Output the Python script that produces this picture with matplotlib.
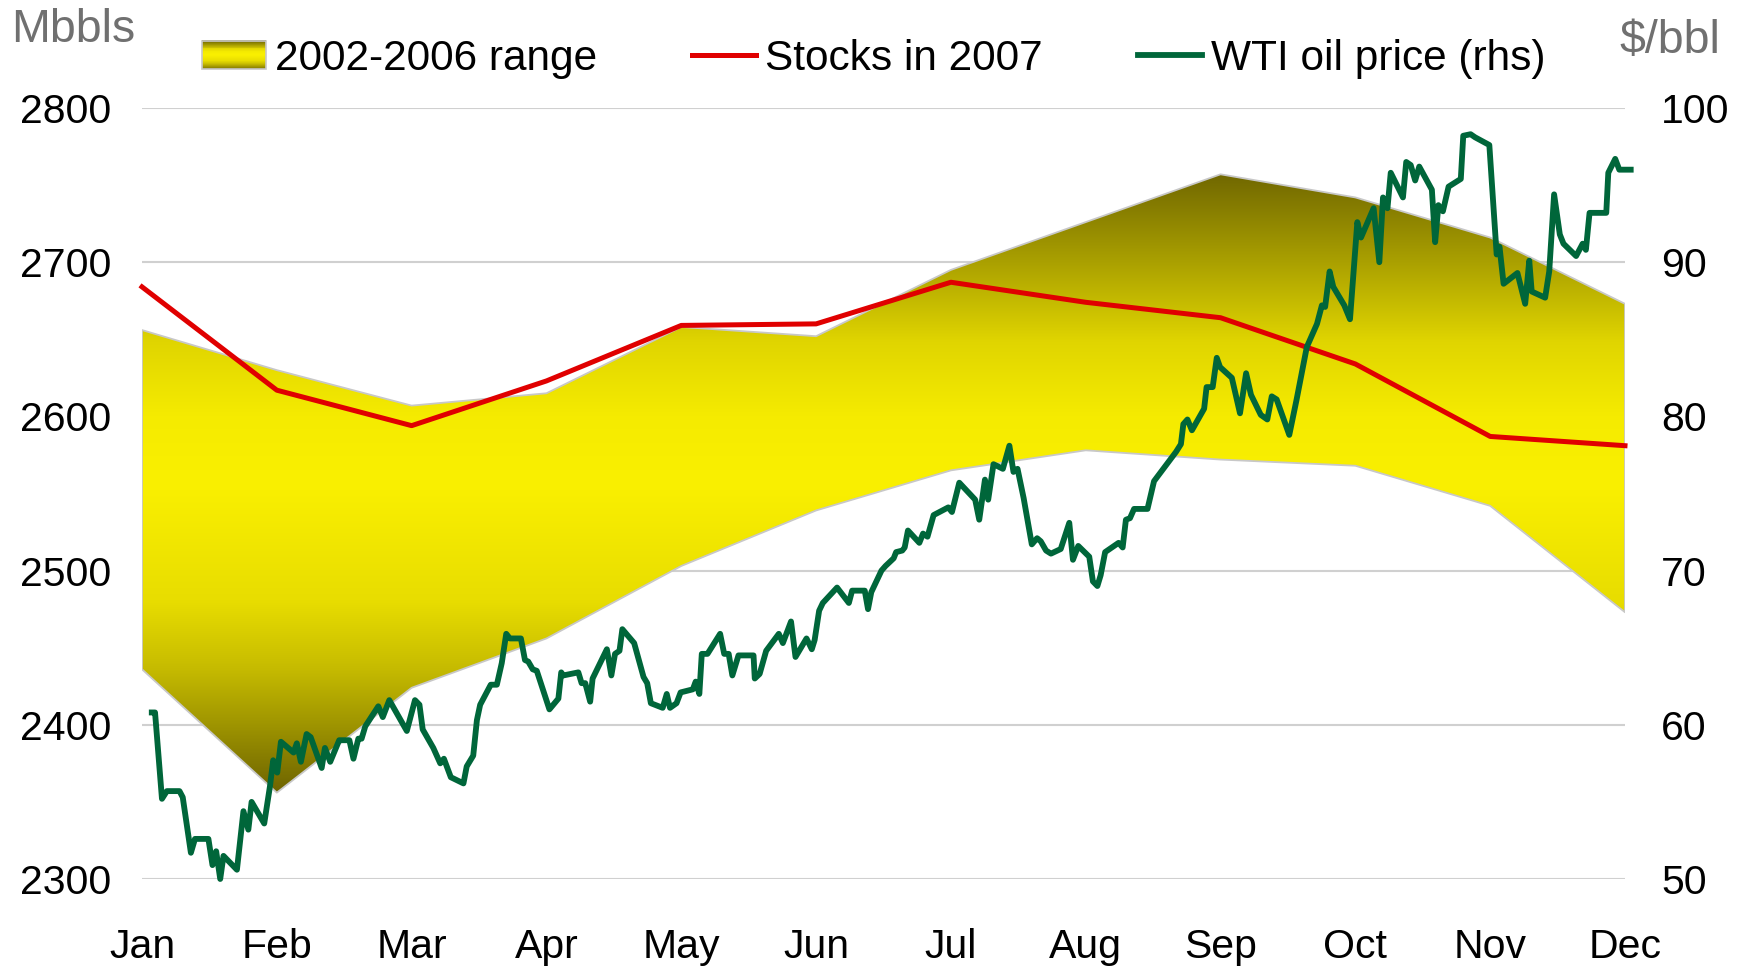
import matplotlib

matplotlib.use("Agg")

import matplotlib.pyplot as plt
import numpy as np
from matplotlib.colors import LinearSegmentedColormap
from matplotlib.legend_handler import HandlerBase
from matplotlib.lines import Line2D
from matplotlib.patches import Patch, Rectangle

plt.rcParams["font.family"] = ["Liberation Sans", "DejaVu Sans"]

# --- data -----------------------------------------------------------------
months = ["Jan", "Feb", "Mar", "Apr", "May", "Jun",
          "Jul", "Aug", "Sep", "Oct", "Nov", "Dec"]

# 2002-2006 range of US stocks, Mbbls
range_high = [2656, 2630, 2607, 2615, 2658, 2652,
              2695, 2726, 2757, 2742, 2716, 2673]
range_low = [2436, 2356, 2424, 2456, 2503, 2539,
             2565, 2578, 2572, 2568, 2542, 2473]

# stocks in 2007, Mbbls
stocks_2007 = [2684, 2617, 2594, 2623, 2659, 2660,
               2687, 2674, 2664, 2634, 2587, 2581]

# WTI price 2007 ($/bbl), day of year -> price
wti_day = [
    2.0, 2.8, 4.5, 5.7, 8.8, 9.6, 11.6, 12.6, 15.9, 16.9, 17.8, 18.8, 19.6,
    22.9, 24.5, 25.7, 26.5, 29.6, 31.0, 31.8, 32.8, 33.7, 36.8, 37.6, 38.6,
    40.0, 41.0, 43.7, 44.5, 45.8, 48.0, 50.5, 51.5, 52.7, 53.5, 54.4, 57.6,
    58.7, 60.3, 64.6, 66.6, 67.7, 68.5, 71.1, 72.8, 73.7, 75.4, 78.5, 79.3,
    80.9, 81.8, 82.6, 85.2, 86.7, 87.9, 89.0, 89.9, 92.6, 93.6, 94.4, 95.5,
    96.5, 99.6, 101.8, 102.5, 103.0, 106.7, 107.5, 108.4, 109.6, 110.2,
    113.7, 114.8, 115.7, 116.8, 117.5, 120.4, 122.7, 123.6, 124.5, 127.4,
    128.4, 129.2, 130.8, 131.8, 134.8, 135.5, 136.4, 137.0, 138.4, 141.5,
    142.5, 143.6, 144.5, 146.0, 149.7, 150.0, 151.2, 152.8, 155.9, 156.9,
    158.9, 160.0, 162.7, 164.0, 164.7, 165.8, 166.7, 170.2, 173.1, 173.9,
    177.0, 177.8, 178.6, 181.1, 182.1, 184.1, 184.7, 186.2, 186.8, 187.6,
    190.4, 191.3, 192.4, 193.9, 197.5, 198.4, 200.2, 204.1, 205.1, 206.5,
    207.3, 208.6, 210.9, 212.5, 213.5, 214.5, 216.0, 218.0, 219.3, 220.2,
    221.5, 222.7, 225.1, 227.2, 228.1, 229.4, 232.1, 233.0, 234.1, 234.9,
    236.0, 239.3, 240.3, 241.1, 242.1, 243.1, 246.4, 248.0, 249.7, 253.4,
    254.6, 255.2, 256.2, 257.3, 260.3, 260.9, 262.4, 263.4, 264.2, 267.1,
    269.1, 270.6, 271.8, 274.2, 275.8, 276.9, 278.1, 281.2, 283.0, 285.5,
    288.0, 289.2, 290.0, 291.1, 292.0, 294.7, 296.1, 297.9, 298.8, 301.9,
    303.3, 304.2, 305.3, 306.1, 309.1, 309.9, 311.0, 312.1, 313.1, 316.2,
    317.0, 317.8, 318.9, 320.3, 323.3, 323.9, 325.7, 326.8, 330.3, 332.1,
    332.8, 333.8, 337.2, 339.1, 340.1, 340.7, 344.0, 345.0, 346.2, 347.6,
    348.5, 351.6, 353.2, 354.0, 354.9, 359.0, 359.5, 361.2, 362.2, 365.0,
]
wti_price = [
    60.8, 60.8, 55.2, 55.7, 55.7, 55.3, 51.7, 52.6, 52.6, 50.9, 51.8, 50.0, 51.5,
    50.6, 54.4, 53.2, 55.0, 53.6, 56.0, 57.7, 56.9, 58.9, 58.2, 58.8, 57.6,
    59.4, 59.2, 57.2, 58.5, 57.6, 59.0, 59.0, 57.8, 59.1, 59.1, 59.9, 61.2,
    60.5, 61.6, 59.6, 61.6, 61.3, 59.7, 58.5, 57.5, 57.8, 56.6, 56.2, 57.3,
    58.0, 60.3, 61.3, 62.6, 62.6, 64.0, 65.9, 65.6, 65.6, 64.2, 64.1, 63.6,
    63.5, 61.0, 61.7, 63.4, 63.2, 63.4, 62.7, 62.7, 61.5, 63.0,
    64.9, 63.2, 64.6, 64.8, 66.2, 65.3, 63.1, 62.7, 61.4, 61.1,
    62.0, 61.1, 61.4, 62.1, 62.3, 62.8, 62.0, 64.6, 64.6, 65.9,
    64.6, 64.6, 63.2, 64.5, 64.5, 63.0, 63.3, 64.8, 65.9, 65.3,
    66.7, 64.4, 65.6, 64.9, 65.5, 67.4, 67.9, 68.9, 67.9, 68.7,
    68.7, 67.5, 68.6, 70.0, 70.3, 70.8, 71.2, 71.3, 71.5, 72.6,
    71.8, 72.4, 72.2, 73.6, 74.1, 73.8, 75.7, 74.6, 73.3, 75.9,
    74.6, 76.9, 76.6, 78.1, 76.4, 76.6, 74.7, 71.7, 72.1, 71.9,
    71.3, 71.1, 71.4, 73.1, 70.7, 71.6, 70.9, 69.3, 69.0, 69.7,
    71.2, 71.8, 71.5, 73.3, 73.4, 74.0, 74.0, 75.8, 76.4, 77.7,
    78.2, 79.5, 79.8, 79.1, 80.5, 81.9, 81.9, 83.8, 83.2, 82.5,
    80.2, 82.8, 81.4, 80.1, 79.8, 81.3, 81.1, 78.8, 81.1, 84.5,
    86.0, 87.2, 87.1, 89.4, 88.4, 87.2, 86.3, 92.6, 91.6, 93.5,
    90.0, 94.2, 93.5, 95.8, 94.2, 96.5, 96.3, 95.3, 96.2, 94.7,
    91.3, 93.7, 93.3, 94.9, 95.4, 98.2, 98.3, 98.1, 97.6, 90.5,
    91.0, 88.6, 89.3, 87.3, 90.1, 88.1, 87.7, 89.4, 94.4, 91.8,
    91.2, 90.4, 91.2, 90.8, 93.2, 93.2, 95.8, 96.7, 96.0, 96.0,
]

# --- styling ----------------------------------------------------------------
RED = "#e00000"
GREEN = "#00663a"
GRID = "#d0d0d0"
EDGE = "#c8c8c8"
FS = 29.5
LEG_FS = 30.5

band_cmap = LinearSegmentedColormap.from_list("band", [
    (0.00, "#6e6400"),
    (0.11, "#9f9500"),
    (0.20, "#c6bb00"),
    (0.31, "#e8dd00"),
    (0.50, "#faf000"),
    (0.61, "#f5eb00"),
    (0.73, "#e0d500"),
    (0.86, "#aaa000"),
    (1.00, "#716800"),
])


class GradientHandler(HandlerBase):
    def create_artists(self, legend, orig_handle, xdescent, ydescent,
                       width, height, fontsize, trans):
        n = 30
        arts = []
        for i in range(n):
            arts.append(Rectangle((-xdescent, -ydescent + i * height / n),
                                  width, height / n + 0.3,
                                  facecolor=band_cmap((i + 0.5) / n),
                                  edgecolor="none", transform=trans))
        arts.append(Rectangle((-xdescent, -ydescent), width, height,
                              facecolor="none", edgecolor=EDGE, lw=1.2,
                              transform=trans))
        return arts


W, H = 1745, 968
fig = plt.figure(figsize=(W / 100, H / 100), dpi=100)
ax = fig.add_axes([142 / W, 1 - 879 / H, (1625 - 142) / W, (879 - 108) / H])

x = np.arange(len(months))

# gradient band clipped to the range polygon
band = ax.fill_between(x, range_low, range_high, facecolor="none",
                       edgecolor=EDGE, lw=1.3, zorder=3)
grad = np.linspace(0, 1, 256).reshape(-1, 1)
img = ax.imshow(grad, extent=[0, 11, min(range_low), max(range_high)],
                aspect="auto", cmap=band_cmap, origin="lower", zorder=2,
                interpolation="bilinear")
img.set_clip_path(band.get_paths()[0], transform=ax.transData)

ax.plot(x, stocks_2007, color=RED, lw=3.6, zorder=4, clip_on=False)

ax.set_xlim(0, 11)
ax.set_ylim(2300, 2800)
ax.set_yticks(range(2300, 2801, 100))
ax.set_xticks(x)
ax.set_xticklabels(months)
ax.grid(axis="y", color=GRID, lw=1.5)
ax.set_axisbelow(True)
for s in ax.spines.values():
    s.set_visible(False)
ax.tick_params(axis="both", length=0, labelsize=FS)
ax.tick_params(axis="y", pad=22)
ax.tick_params(axis="x", pad=35.5)

# oil price on the secondary axis
ax2 = ax.twinx()
wti_pos = (np.array(wti_day) + 0.4) / 364 * 11
ax2.plot(wti_pos, wti_price, color=GREEN, lw=4.2, clip_on=False,
         solid_joinstyle="round")
ax2.set_ylim(50, 100)
ax2.set_yticks(range(50, 101, 10))
for s in ax2.spines.values():
    s.set_visible(False)
ax2.tick_params(axis="y", length=0, labelsize=FS, pad=26)

fig.text(11 / W, 1 - 30 / H, "Mbbls", fontsize=33.5, color="#707070",
         ha="left", va="center")
fig.text(1619 / W, 1 - 41 / H, "$/bbl", fontsize=33.5, color="#707070",
         ha="left", va="center")

handles = [
    Patch(label="2002-2006 range"),
    Line2D([], [], color=RED, lw=3.6, label="Stocks in 2007"),
    Line2D([], [], color=GREEN, lw=4.2, label="WTI oil price (rhs)"),
]
fig.legend(handles=handles, handler_map={Patch: GradientHandler()},
           loc="center left", bbox_to_anchor=(202 / W, 1 - 59 / H),
           ncol=3, frameon=False, fontsize=LEG_FS, borderpad=0,
           borderaxespad=0, handlelength=1.5, handleheight=0.66,
           handletextpad=0.22, columnspacing=2.25)

fig.savefig("out.png", dpi=100)
